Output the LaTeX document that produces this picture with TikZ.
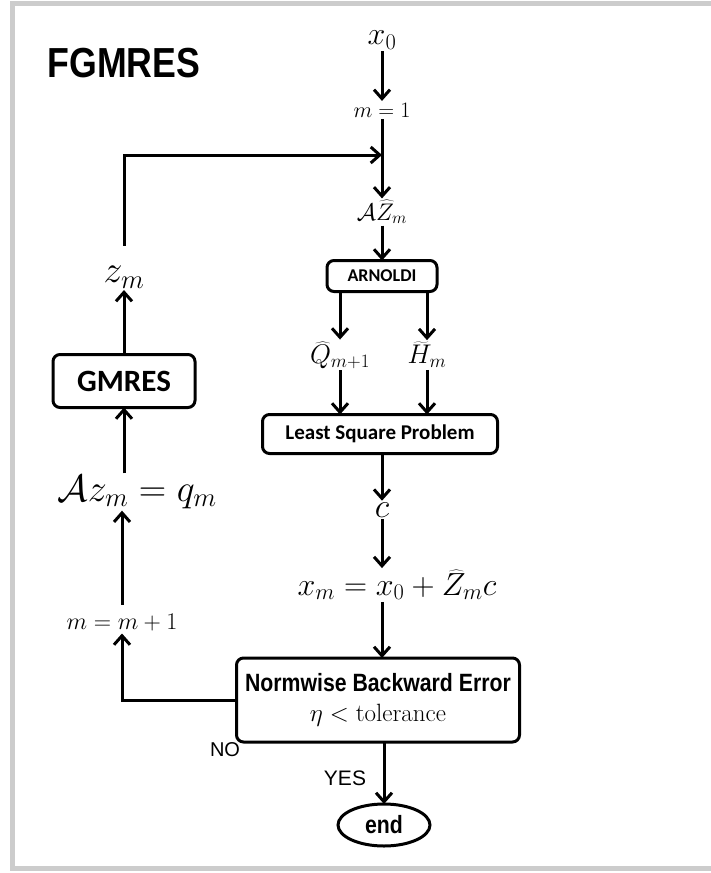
\RequirePackage{fix-cm}
\documentclass[tikz,border=0pt]{standalone}
\usepackage{fontspec}
\usepackage{tikz}
\usetikzlibrary{shapes.geometric,arrows.meta,calc}
\newfontfamily\helv[FakeStretch=0.85]{Liberation Sans}
\newfontfamily\helvreg{Liberation Sans}
\newfontfamily\calib{Carlito}
\newcommand{\fs}[1]{\fontsize{#1}{#1}\selectfont}

\begin{document}
\begin{tikzpicture}[x=1pt, y=-1pt, outer sep=0pt, inner sep=2pt,
  >={Straight Barb[length=9pt,width=16pt]},
  line/.style={->, line width=3pt},
  box/.style={draw, line width=3pt, rounded corners=7pt},
  term/.style={draw, ellipse, line width=3pt, minimum width=92, minimum height=42}]

\useasboundingbox (0,0) rectangle (710,873);
\draw[gray!40, line width=5pt] (12.5,3.5) rectangle (730,868.5);

\node at (124, 63) (TITLE) {\helv\bfseries\fs{42}FGMRES};

% main column
\node at (382, 40) (X0) {\fs{32}$x_0$};
\node at (382, 110) (M1) {\fs{22}$m=1$};
\node at (382, 212) (AZ) {\fs{24}$\mathcal{A}\widehat{Z}_m$};
\node[box, minimum width=110, minimum height=31] at (382, 276) (ARN) {\calib\bfseries\fs{18}ARNOLDI};
\node at (340, 355) (Q) {\fs{27}$\widehat{Q}_{m+1}$};
\node at (427, 355) (H) {\fs{27}$\widetilde{H}_m$};
\node[box, minimum width=235, minimum height=39] at (380, 434) (LSP) {\calib\bfseries\fs{21}Least Square Problem};
\node at (382, 510) (C) {\fs{34}$c$};
\node at (397, 585) (XM) {\fs{32}$x_m=x_0+\widehat{Z}_m c$};
\node[box, minimum width=283, minimum height=84, align=center] at (378, 700) (NBE)
  {{\helv\bfseries\fs{25}Normwise Backward Error}\\[12pt]{\fs{25}$\eta<\mathrm{tolerance}$}};
\node[term] at (384, 825) (END) {\helv\bfseries\fs{25}end};
\node at (225, 750) (NO) {\helvreg\fs{20}NO};
\node at (345, 778) (YES) {\helvreg\fs{21}YES};

% left column
\node at (124, 277) (ZM) {\fs{38}$z_m$};
\node[box, minimum width=142, minimum height=53] at (124, 381) (GM) {\calib\bfseries\fs{31}GMRES};
\node at (137, 492) (AZQ) {\fs{38}$\mathcal{A}z_m=q_m$};
\node at (122, 623) (MM) {\fs{24}$m=m+1$};

\coordinate (FB) at (382, 155);

\draw [line] (X0) -- (M1);
\draw [line] (M1) -- (AZ);
\draw [line] (AZ) -- (ARN);
\draw [line] (ARN.south -| Q) -- (Q);
\draw [line] (ARN.south -| H) -- (H);
\draw [line] (Q) -- (Q |- LSP.north);
\draw [line] (H) -- (H |- LSP.north);
\draw [line] (LSP.south -| C) -- (C);
\draw [line] (C) -- (C |- XM.north);
\draw [line] (C |- XM.south) -- (C |- NBE.north);
\draw [line] (NBE.south -| END) -- (END);
\draw [line] (NBE.west) -| (MM);
\draw [line, shorten <=8pt] (MM.north) -- (MM.north |- AZQ.south);
\draw [line] (AZQ.north -| GM) -- (GM);
\draw [line] (GM) -- (ZM);
\draw [line, shorten <=18pt] (ZM) |- (FB);
\end{tikzpicture}
\end{document}
